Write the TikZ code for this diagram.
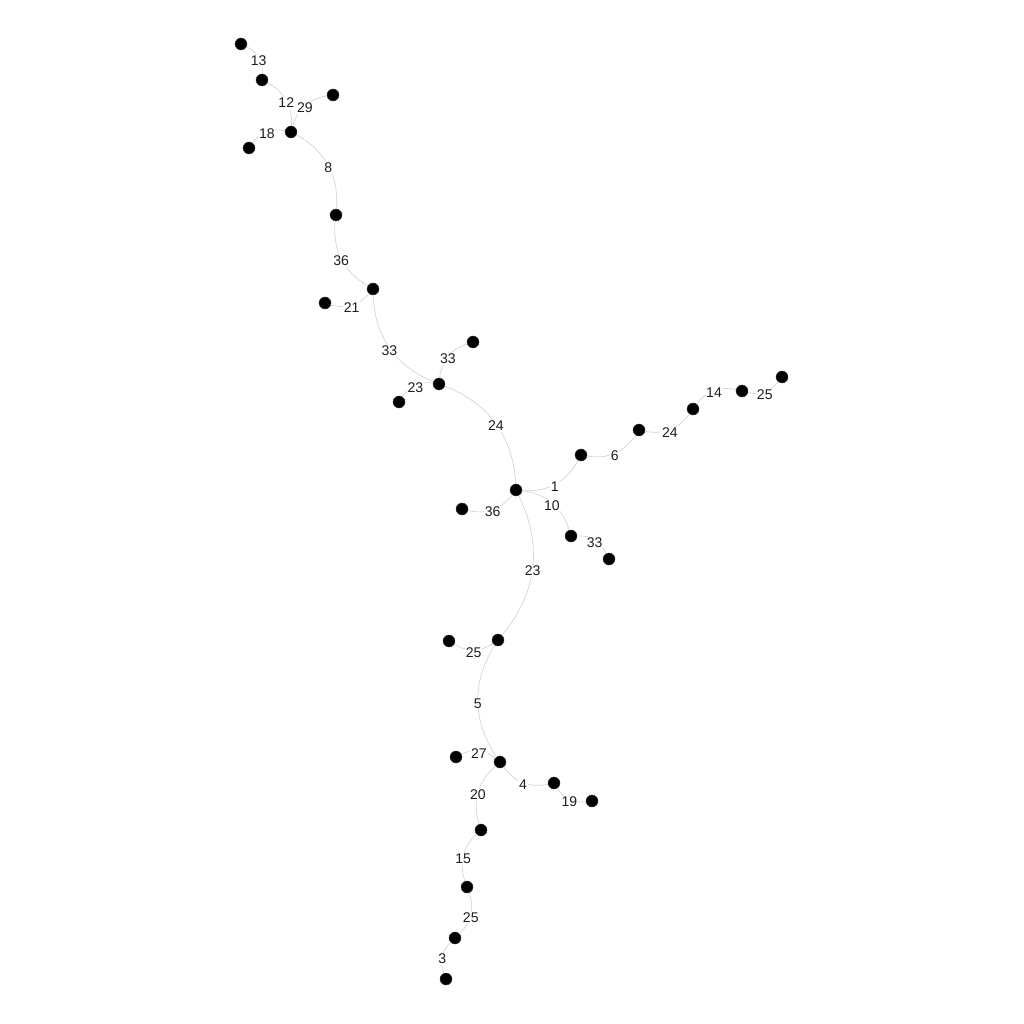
\documentclass[tikz,border=0pt]{standalone}
\usepackage{fontspec}
\setmainfont{Liberation Sans}
\usepackage{tikz}
\usetikzlibrary{positioning, calc}
\definecolor{edgegray}{RGB}{212,212,212}
\definecolor{labeldark}{RGB}{30,30,30}
\tikzset{
  dot/.style={circle, fill=black, draw=black!80, line width=0.3pt, minimum size=3mm, inner sep=0pt},
  edge/.style={draw=edgegray, line width=0.5pt},
  wlabel/.style={font=\fontsize{10}{11}\selectfont, text=labeldark, fill=white, inner sep=0.5pt, yshift=-0.6mm}
}

\begin{document}
\begin{tikzpicture}[x=0.25mm, y=0.25mm,
  bl/.style={bend left=33},
  br/.style={bend right=33}]

  \useasboundingbox (0,0) rectangle (1024,-1024);

  % Upper branch
  \node[dot] (v1) at (241,-44) {};
  \node[dot] (v2) at (262,-80) {};
  \node[dot] (v3) at (333,-95) {};
  \node[dot] (v4) at (291,-132) {};
  \node[dot] (v5) at (249,-148) {};
  \node[dot] (v6) at (336,-215) {};
  \node[dot] (v7) at (373,-289) {};
  \node[dot] (v8) at (325,-303) {};
  \node[dot] (v9) at (473,-342) {};
  \node[dot] (v10) at (439,-384) {};
  \node[dot] (v11) at (399,-402) {};

  % Hub and right branch
  \node[dot] (hub) at (516,-490) {};
  \node[dot] (r1) at (581,-455) {};
  \node[dot] (r2) at (639,-430) {};
  \node[dot] (r3) at (693,-409) {};
  \node[dot] (r4) at (742,-391) {};
  \node[dot] (r5) at (782,-377) {};
  \node[dot] (h1) at (462,-509) {};
  \node[dot] (s1) at (571,-536) {};
  \node[dot] (s2) at (609,-559) {};

  % Lower branch
  \node[dot] (w1) at (498,-640) {};
  \node[dot] (w2) at (449,-641) {};
  \node[dot] (w3) at (500,-762) {};
  \node[dot] (w4) at (456,-757) {};
  \node[dot] (w5) at (554,-783) {};
  \node[dot] (w6) at (592,-801) {};
  \node[dot] (w7) at (481,-830) {};
  \node[dot] (w8) at (467,-887) {};
  \node[dot] (w9) at (455,-938) {};
  \node[dot] (w10) at (446,-979) {};

  % Connections
  \draw[edge] (v1) to[bl] node[wlabel] {13} (v2);
  \draw[edge] (v2) to[bl] node[wlabel] {12} (v4);
  \draw[edge] (v3) to[br] node[wlabel] {29} (v4);
  \draw[edge] (v5) to[bl] node[wlabel] {18} (v4);
  \draw[edge] (v4) to[bl] node[wlabel] {8} (v6);
  \draw[edge] (v6) to[br] node[wlabel] {36} (v7);
  \draw[edge] (v8) to[br] node[wlabel] {21} (v7);
  \draw[edge] (v7) to[br] node[wlabel] {33} (v10);
  \draw[edge] (v9) to[br] node[wlabel] {33} (v10);
  \draw[edge] (v11) to[bl] node[wlabel] {23} (v10);
  \draw[edge] (v10) to[bl] node[wlabel] {24} (hub);

  \draw[edge] (hub) to[br] node[wlabel] {1} (r1);
  \draw[edge] (r1) to[br] node[wlabel] {6} (r2);
  \draw[edge] (r2) to[br] node[wlabel] {24} (r3);
  \draw[edge] (r3) to[bl] node[wlabel] {14} (r4);
  \draw[edge] (r4) to[br] node[wlabel] {25} (r5);
  \draw[edge] (hub) to[bl] node[wlabel] {10} (s1);
  \draw[edge] (s1) to[bl] node[wlabel] {33} (s2);
  \draw[edge] (h1) to[br] node[wlabel] {36} (hub);

  \draw[edge] (hub) to[bl] node[wlabel] {23} (w1);
  \draw[edge] (w2) to[br] node[wlabel] {25} (w1);
  \draw[edge] (w1) to[br] node[wlabel] {5} (w3);
  \draw[edge] (w4) to[bl] node[wlabel] {27} (w3);
  \draw[edge] (w3) to[br] node[wlabel] {4} (w5);
  \draw[edge] (w5) to[br] node[wlabel] {19} (w6);
  \draw[edge] (w3) to[br] node[wlabel] {20} (w7);
  \draw[edge] (w7) to[br] node[wlabel] {15} (w8);
  \draw[edge] (w8) to[bl] node[wlabel] {25} (w9);
  \draw[edge] (w9) to[br] node[wlabel] {3} (w10);

\end{tikzpicture}
\end{document}
